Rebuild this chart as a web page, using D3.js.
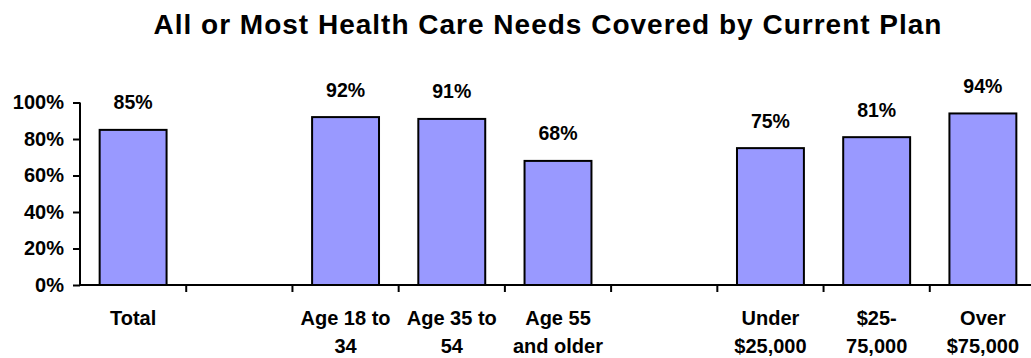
<!DOCTYPE html>
<html>
<head>
<meta charset="utf-8">
<script src="https://cdn.jsdelivr.net/npm/d3@7"></script>
<style>
  html, body { margin: 0; padding: 0; background: #fff; }
  svg { display: block; font-family: "Liberation Sans", Arial, sans-serif; font-weight: bold; }
</style>
</head>
<body>
<svg id="chart" width="1031" height="358"></svg>
<script>
// Share of respondents whose current plan covers all or most health care needs
const categories = ["Total", "gap1", "Age 18 to 34", "Age 35 to 54", "Age 55 and older", "gap2", "Under $25,000", "$25-75,000", "Over $75,000"];
const labelLines = [["Total"], [], ["Age 18 to", "34"], ["Age 35 to", "54"], ["Age 55", "and older"], [], ["Under", "$25,000"], ["$25-", "75,000"], ["Over", "$75,000"]];
const values = [85, null, 92, 91, 68, null, 75, 81, 94];
const yTicks = [0, 20, 40, 60, 80, 100];

const svg = d3.select("#chart");
const plotLeft = 80, plotRight = 1036, plotTop = 102.5, plotBottom = 285;

const x = d3.scaleBand().domain(categories).range([plotLeft, plotRight]).paddingInner(0.37).paddingOuter(0.185);
const xTicks = d3.scaleBand().domain(categories).range([plotLeft, plotRight]);
const y = d3.scaleLinear().domain([0, 100]).range([plotBottom, plotTop]);

// Title
svg.append("text")
  .attr("x", 548).attr("y", 33.5)
  .attr("text-anchor", "middle")
  .attr("font-size", 28)
  .attr("letter-spacing", 1)
  .text("All or Most Health Care Needs Covered by Current Plan");

// Bars
const data = categories.map((c, i) => ({ c, v: values[i] })).filter(d => d.v !== null);
svg.selectAll("rect.bar").data(data).enter().append("rect")
  .attr("class", "bar")
  .attr("x", d => x(d.c))
  .attr("width", x.bandwidth())
  .attr("y", d => y(d.v))
  .attr("height", d => y(0) - y(d.v))
  .attr("fill", "#9999FF")
  .attr("stroke", "#000")
  .attr("stroke-width", 2);

// Value labels
svg.selectAll("text.val").data(data).enter().append("text")
  .attr("class", "val")
  .attr("x", d => x(d.c) + x.bandwidth() / 2)
  .attr("y", d => y(d.v) - 20.5)
  .attr("text-anchor", "middle")
  .attr("font-size", 19.5)
  .text(d => d.v + "%");

// Y axis
const yAxis = d3.axisLeft(y).tickValues(yTicks).tickFormat(d => d + "%").tickSize(7).tickPadding(9);
const gy = svg.append("g").attr("transform", `translate(${plotLeft},0)`).call(yAxis);
gy.select(".domain").attr("stroke", "#000").attr("stroke-width", 2).attr("d", `M0,${plotBottom}V${plotTop}`);
gy.selectAll(".tick line").attr("stroke", "#000").attr("stroke-width", 2);
gy.selectAll(".tick text").attr("font-size", 20).attr("font-weight", "bold").attr("fill", "#000")
  .attr("font-family", "Liberation Sans, Arial, sans-serif");

// X axis line with ticks at category boundaries
svg.append("line").attr("x1", plotLeft).attr("x2", plotRight).attr("y1", plotBottom).attr("y2", plotBottom)
  .attr("stroke", "#000").attr("stroke-width", 2);
svg.selectAll("line.xt").data(categories.slice(1)).enter().append("line")
  .attr("class", "xt")
  .attr("x1", d => xTicks(d)).attr("x2", d => xTicks(d))
  .attr("y1", plotBottom).attr("y2", plotBottom + 7)
  .attr("stroke", "#000").attr("stroke-width", 2);

// Category labels
const lab = svg.selectAll("text.cat").data(categories).enter().append("text")
  .attr("class", "cat")
  .attr("text-anchor", "middle")
  .attr("font-size", 20)
  .attr("x", d => xTicks(d) + xTicks.bandwidth() / 2);
lab.each(function(d, i) {
  const t = d3.select(this);
  labelLines[i].forEach((line, j) => {
    t.append("tspan").attr("x", xTicks(d) + xTicks.bandwidth() / 2).attr("y", 325 + j * 28).text(line);
  });
});
</script>
</body>
</html>
